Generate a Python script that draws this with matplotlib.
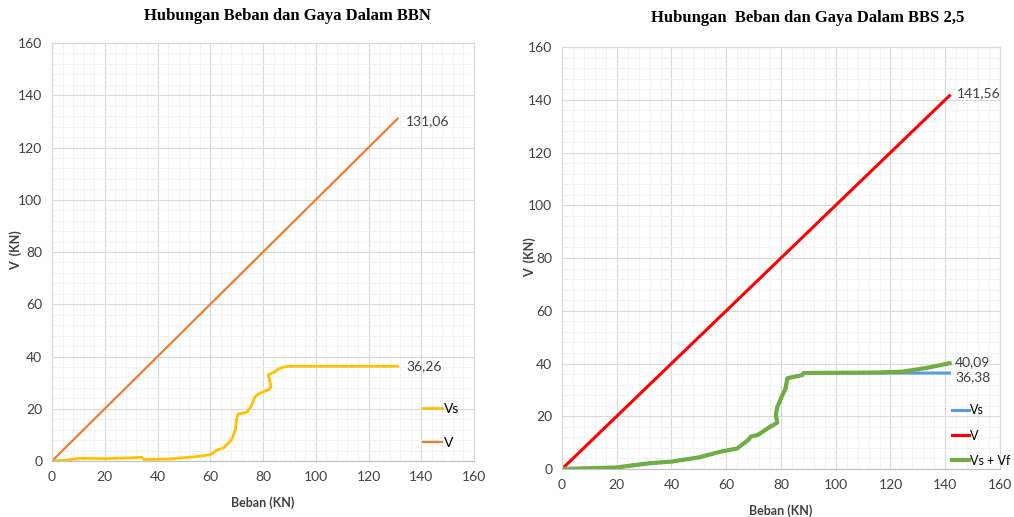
import matplotlib
matplotlib.use('Agg')
import matplotlib.pyplot as plt
from matplotlib.ticker import MultipleLocator

# left chart (BBN)
bbn_v_x = [0, 131.06]
bbn_v_y = [0, 131.06]
bbn_vs_x = [0, 5, 10, 12, 20, 30, 34, 35, 45, 50, 55, 60, 61, 62.5, 65, 66, 68, 69, 69.5, 70, 70.5,
            72, 74, 75.5, 77, 78, 79, 80, 82, 83, 82.5, 82, 83, 84.5, 86, 88, 90, 131.06]
bbn_vs_y = [0, 0.3, 1.0, 1.0, 0.9, 1.2, 1.4, 0.6, 0.8, 1.3, 1.7, 2.4, 3.0, 4.2, 5.0, 6.0, 8.0, 10.5, 12, 16, 18,
            18.2, 18.8, 21, 24.6, 25.5, 26, 26.5, 27.2, 28.5, 31, 33, 33.5, 34.2, 35.3, 36, 36.26, 36.26]

# right chart (BBS 2,5)
bbs_v_x = [0, 141.56]
bbs_v_y = [0, 141.56]
bbs_vs_x = [0, 20, 32, 40, 50, 58, 64, 68, 69, 71.5, 76, 78.7, 78.1, 78.7, 80.5, 81.7, 82.3, 87.7, 88.3, 141.56]
bbs_vs_y = [0, 0.6, 2.2, 2.8, 4.4, 6.6, 7.8, 11, 12.3, 12.9, 16, 17.6, 20.5, 23.6, 28, 30.5, 34.4, 35.6, 36.4, 36.38]
bbs_vsvf_x = bbs_vs_x[:-1] + [115, 124.4, 134, 141.56]
bbs_vsvf_y = bbs_vs_y[:-1] + [36.6, 36.9, 38.5, 40.09]

TICK_COLOR = '#404040'
NARROW = ['Lato', 'DejaVu Sans']


def style_axes(ax, ylab_pos):
    ax.set_xlim(0, 160)
    ax.set_ylim(0, 160)
    ax.xaxis.set_major_locator(MultipleLocator(20))
    ax.yaxis.set_major_locator(MultipleLocator(20))
    ax.xaxis.set_minor_locator(MultipleLocator(4))
    ax.yaxis.set_minor_locator(MultipleLocator(4))
    ax.grid(which='major', color='#d9d9d9', lw=0.8)
    ax.grid(which='minor', color='#f0f0f0', lw=0.6)
    ax.set_axisbelow(True)
    for s in ax.spines.values():
        s.set_color('#d9d9d9')
        s.set_linewidth(0.8)
    ax.spines['bottom'].set_color('#bfbfbf')
    ax.tick_params(which='both', length=0, labelsize=10, colors=TICK_COLOR, pad=7)
    for lab in ax.get_xticklabels() + ax.get_yticklabels():
        lab.set_family(NARROW)
    ax.set_xlabel('Beban (KN)', fontsize=9, fontweight='bold', color=TICK_COLOR, labelpad=10,
                  family=NARROW)
    ax.set_ylabel('V  (KN)', fontsize=9, fontweight='bold', color=TICK_COLOR, family=NARROW)
    ax.yaxis.set_label_coords(*ylab_pos)


fig = plt.figure(figsize=(10.14, 5.17), dpi=100)

ax1 = fig.add_axes([0.0513, 0.1083, 0.4162, 0.8085])
style_axes(ax1, (-0.072, 0.505))
ax1.plot(bbn_vs_x, bbn_vs_y, color='#FFC000', lw=2, label='Vs')
ax1.plot(bbn_v_x, bbn_v_y, color='#ED7D31', lw=1.6, label='V')
ax1.annotate('131,06', (bbn_v_x[-1], bbn_v_y[-1]), xytext=(6, -2), textcoords='offset points',
             fontsize=10, color=TICK_COLOR, va='center', family=NARROW)
ax1.annotate('36,26', (bbn_vs_x[-1], bbn_vs_y[-1]), xytext=(6, 0), textcoords='offset points',
             fontsize=10, color=TICK_COLOR, va='center', family=NARROW)
ax1.legend(loc='upper left', bbox_to_anchor=(0.865, 0.152), frameon=False,
           prop={'family': NARROW, 'size': 10},
           labelspacing=1.55, handlelength=1.4, handletextpad=0.1, borderaxespad=0)
fig.text(0.283, 0.97, 'Hubungan Beban dan Gaya Dalam BBN', ha='center', va='center',
         fontsize=12, fontweight='bold', family='Liberation Serif')

ax2 = fig.add_axes([0.5542, 0.0928, 0.432, 0.8163])
style_axes(ax2, (-0.06, 0.502))
ax2.plot(bbs_vs_x, bbs_vs_y, color='#5B9BD5', lw=2.2, label='Vs')
ax2.plot(bbs_v_x, bbs_v_y, color='#FF0000', lw=2.2, label='V')
ax2.plot(bbs_vsvf_x, bbs_vsvf_y, color='#70AD47', lw=3, label='Vs + Vf')
ax2.annotate('141,56', (bbs_v_x[-1], bbs_v_y[-1]), xytext=(5, 2), textcoords='offset points',
             fontsize=10, color=TICK_COLOR, va='center', family=NARROW)
ax2.annotate('40,09', (bbs_vsvf_x[-1], bbs_vsvf_y[-1]), xytext=(4, 1), textcoords='offset points',
             fontsize=10, color=TICK_COLOR, va='center', family=NARROW)
ax2.annotate('36,38', (bbs_vs_x[-1], bbs_vs_y[-1]), xytext=(4, -3), textcoords='offset points',
             fontsize=10, color=TICK_COLOR, va='center', family=NARROW)
ax2.legend(loc='upper left', bbox_to_anchor=(0.88, 0.165), frameon=False,
           prop={'family': NARROW, 'size': 9},
           labelspacing=1.05, handlelength=1.3, handletextpad=0.1, borderaxespad=0)
fig.text(0.797, 0.966, 'Hubungan  Beban dan Gaya Dalam BBS 2,5', ha='center', va='center',
         fontsize=12, fontweight='bold', family='Liberation Serif')

fig.savefig('out.png', dpi=100)
